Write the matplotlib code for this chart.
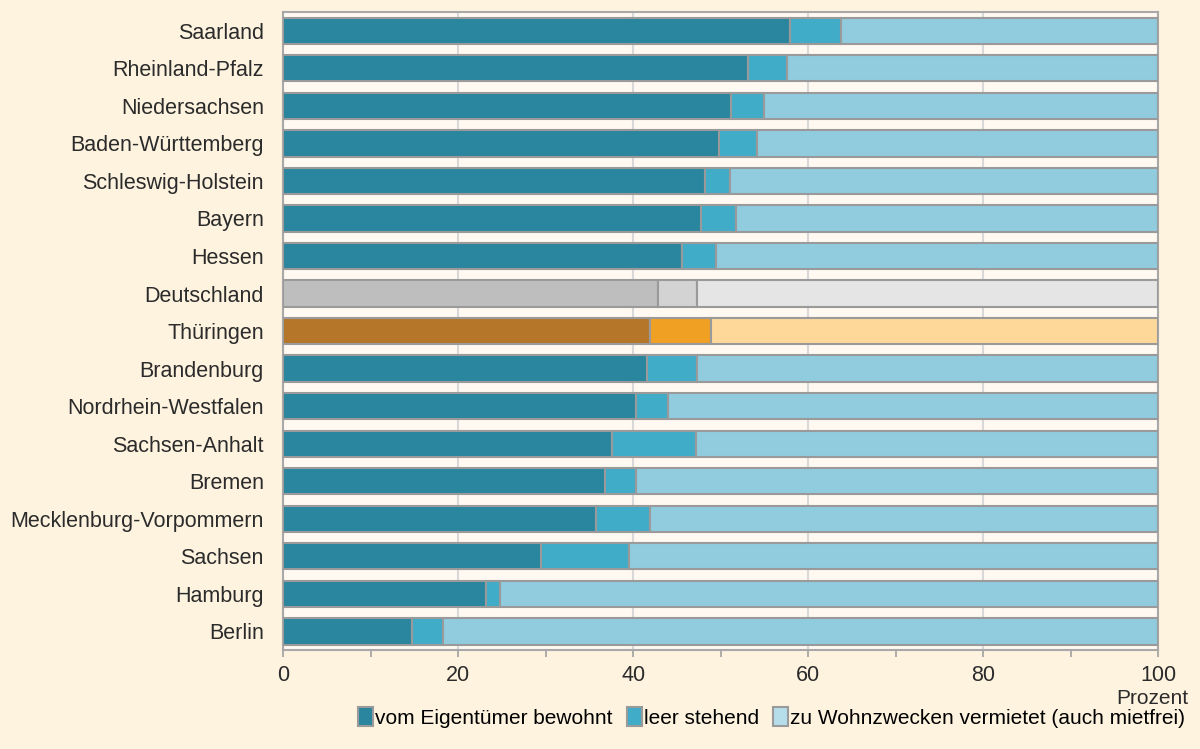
import matplotlib
matplotlib.use("Agg")
import matplotlib.pyplot as plt
from matplotlib.patches import Patch
import numpy as np

plt.rcParams['font.family'] = ['Liberation Sans', 'DejaVu Sans']

laender = ['Saarland', 'Rheinland-Pfalz', 'Niedersachsen', 'Baden-Württemberg',
           'Schleswig-Holstein', 'Bayern', 'Hessen', 'Deutschland', 'Thüringen',
           'Brandenburg', 'Nordrhein-Westfalen', 'Sachsen-Anhalt', 'Bremen',
           'Mecklenburg-Vorpommern', 'Sachsen', 'Hamburg', 'Berlin']
eigentuemer = [57.9, 53.1, 51.2, 49.8, 48.2, 47.8, 45.6, 42.9, 41.9,
               41.6, 40.3, 37.6, 36.8, 35.7, 29.5, 23.2, 14.7]
leer = [5.9, 4.5, 3.8, 4.4, 2.9, 4.0, 3.9, 4.4, 7.0,
        5.7, 3.7, 9.6, 3.5, 6.2, 10.0, 1.6, 3.6]
vermietet = [100 - a - b for a, b in zip(eigentuemer, leer)]

farben = ['#2A869E', '#40ACC8', '#90CCDE']
farben_de = ['#BEBEBE', '#D3D3D3', '#E5E5E5']
farben_th = ['#B5762A', '#F0A023', '#FDD898']
txt = '#2B2B2B'

fig = plt.figure(figsize=(12, 7.49), dpi=100, facecolor='#FEF3DF')
ax = fig.add_axes([0.236, 0.132, 0.729, 0.852], facecolor='#FFF9F1')

y = np.arange(len(laender))
cols = []
for name in laender:
    if name == 'Deutschland':
        cols.append(farben_de)
    elif name == 'Thüringen':
        cols.append(farben_th)
    else:
        cols.append(farben)
cols = np.array(cols)

left = np.zeros(len(laender))
for i, werte in enumerate([eigentuemer, leer, vermietet]):
    ax.barh(y, werte, left=left, height=0.7, color=cols[:, i],
            edgecolor='#9A9A9A', linewidth=1.5, zorder=3)
    left += np.array(werte)

ax.set_yticks(y)
ax.set_yticklabels(laender, fontsize=15.5, color=txt)
ax.set_ylim(len(laender) - 0.5, -0.5)
ax.set_xlim(0, 100)
ax.set_xticks([0, 20, 40, 60, 80, 100])
ax.set_xticks(range(0, 101, 10), minor=True)
ax.tick_params(axis='x', which='both', colors='#A0A0A0', labelcolor=txt,
               labelsize=15.5, length=5, width=1.2, pad=6)
ax.tick_params(axis='y', length=0, pad=14)
ax.grid(axis='x', which='major', color='#D8D8D8', linewidth=1.5, zorder=0)
for s in ax.spines.values():
    s.set_color('#A8A8A8')
    s.set_linewidth(1.5)

fig.text(0.99, 0.068, 'Prozent', ha='right', va='center', fontsize=15, color=txt)

handles = [Patch(facecolor=c, edgecolor='#9A9A9A', linewidth=1.5) for c in
           ['#2A869E', '#40ACC8', '#B5DDEA']]
fig.legend(handles, ['vom Eigentümer bewohnt', 'leer stehend',
                     'zu Wohnzwecken vermietet (auch mietfrei)'],
           loc='center', bbox_to_anchor=(0.643, 0.042), ncol=3, frameon=False,
           fontsize=15, handlelength=0.7, handleheight=1.0, handletextpad=0.1,
           columnspacing=0.7, borderaxespad=0)

fig.savefig('out.png', dpi=100, facecolor=fig.get_facecolor())
